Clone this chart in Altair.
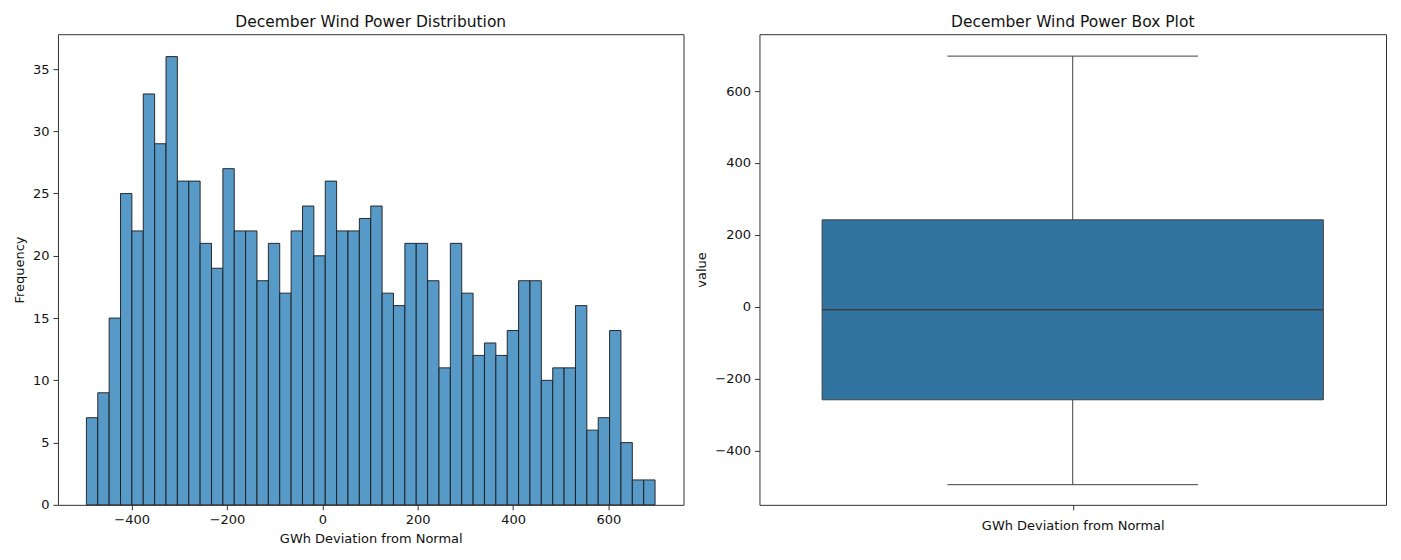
import altair as alt
import pandas as pd

# Histogram: 50 equal-width bins of the December wind-power deviation (GWh)
bin_lo = -495.0
bin_hi = 698.0
counts = [7, 9, 15, 25, 22, 33, 29, 36, 26, 26,
          21, 19, 27, 22, 22, 18, 21, 17, 22, 24,
          20, 26, 22, 22, 23, 24, 17, 16, 21, 21,
          18, 11, 21, 17, 12, 13, 12, 14, 18, 18,
          10, 11, 11, 16, 6, 7, 14, 5, 2, 2]

# Box plot summary of the same series
box_label = "GWh Deviation from Normal"
whisker_low = -494.0
q1 = -258.0
median = -8.0
q3 = 242.0
whisker_high = 697.0

n_bins = len(counts)
width_bin = (bin_hi - bin_lo) / n_bins
hist_df = pd.DataFrame({
    "x0": [bin_lo + i * width_bin for i in range(n_bins)],
    "x1": [bin_lo + (i + 1) * width_bin for i in range(n_bins)],
    "count": counts,
})

FONT = "DejaVu Sans"
W, H = 626, 471
minus = "replace(datum.label, '-', '\u2212')"

span = bin_hi - bin_lo
x_dom = [bin_lo - 0.05 * span, bin_hi + 0.05 * span]

hist = alt.Chart(hist_df).mark_bar(
    color="#5799c7", stroke="#1a1a1a", strokeWidth=0.9, opacity=1
).encode(
    x=alt.X("x0:Q", scale=alt.Scale(domain=x_dom, nice=False, zero=False),
            axis=alt.Axis(values=[-400, -200, 0, 200, 400, 600], labelExpr=minus,
                          title="GWh Deviation from Normal")),
    x2="x1:Q",
    y=alt.Y("count:Q", scale=alt.Scale(domain=[0, max(counts) * 1.05], nice=False),
            axis=alt.Axis(values=[0, 5, 10, 15, 20, 25, 30, 35], title="Frequency")),
    y2=alt.datum(0),
).properties(width=W, height=H, title="December Wind Power Distribution")

box_df = pd.DataFrame({
    "lo": [whisker_low], "q1": [q1], "med": [median], "q3": [q3], "hi": [whisker_high],
    "label": [box_label],
})
y_dom = [-550, 758]
ys = alt.Scale(domain=y_dom, nice=False, zero=False)
xs = alt.Scale(domain=[-0.5, 0.5], nice=False, zero=False)
x_axis = alt.Axis(values=[0], labelExpr=f"'{box_label}'", title=None,
                  labelLimit=400, labelPadding=10)
y_axis = alt.Axis(values=[-400, -200, 0, 200, 400, 600], labelExpr=minus, title="value")
edge = "#3f3f3f"

base = alt.Chart(box_df)
whisk_lo = base.mark_rule(color=edge, strokeWidth=1).encode(
    x=alt.X("c:Q", scale=xs, axis=x_axis), y=alt.Y("lo:Q", scale=ys, axis=y_axis), y2="q1:Q"
).transform_calculate(c="0")
whisk_hi = base.mark_rule(color=edge, strokeWidth=1).encode(
    x=alt.X("c:Q", scale=xs), y=alt.Y("q3:Q", scale=ys), y2="hi:Q"
).transform_calculate(c="0")
cap_lo = base.mark_rule(color=edge, strokeWidth=1).encode(
    x=alt.X("a:Q", scale=xs), x2="b:Q", y=alt.Y("lo:Q", scale=ys)
).transform_calculate(a="-0.2", b="0.2")
cap_hi = base.mark_rule(color=edge, strokeWidth=1).encode(
    x=alt.X("a:Q", scale=xs), x2="b:Q", y=alt.Y("hi:Q", scale=ys)
).transform_calculate(a="-0.2", b="0.2")
box = base.mark_rect(color="#3274a1", stroke=edge, strokeWidth=1).encode(
    x=alt.X("a:Q", scale=xs), x2="b:Q", y=alt.Y("q1:Q", scale=ys), y2="q3:Q"
).transform_calculate(a="-0.4", b="0.4")
med = base.mark_rule(color=edge, strokeWidth=1.6).encode(
    x=alt.X("a:Q", scale=xs), x2="b:Q", y=alt.Y("med:Q", scale=ys)
).transform_calculate(a="-0.4", b="0.4")

boxplot = alt.layer(whisk_lo, whisk_hi, cap_lo, cap_hi, box, med).properties(
    width=627, height=H, title="December Wind Power Box Plot"
)

chart = alt.hconcat(hist, boxplot, spacing=76, bounds="flush").properties(
    padding={"left": 12, "top": 14, "right": 14, "bottom": 10},
).configure_view(
    stroke="#333333", strokeWidth=1
).configure_axis(
    grid=False, domain=False, tickColor="#333333", tickSize=5, tickWidth=1,
    labelFont=FONT, labelFontSize=13, labelColor="#111111", labelPadding=4,
    titleFont=FONT, titleFontSize=13, titleFontWeight="normal", titleColor="#111111",
    titlePadding=6,
).configure_title(
    font=FONT, fontSize=15.5, fontWeight="normal", color="#111111", anchor="middle", offset=4
)

chart.save("out.html", embed_options={"renderer": "svg", "actions": False})
